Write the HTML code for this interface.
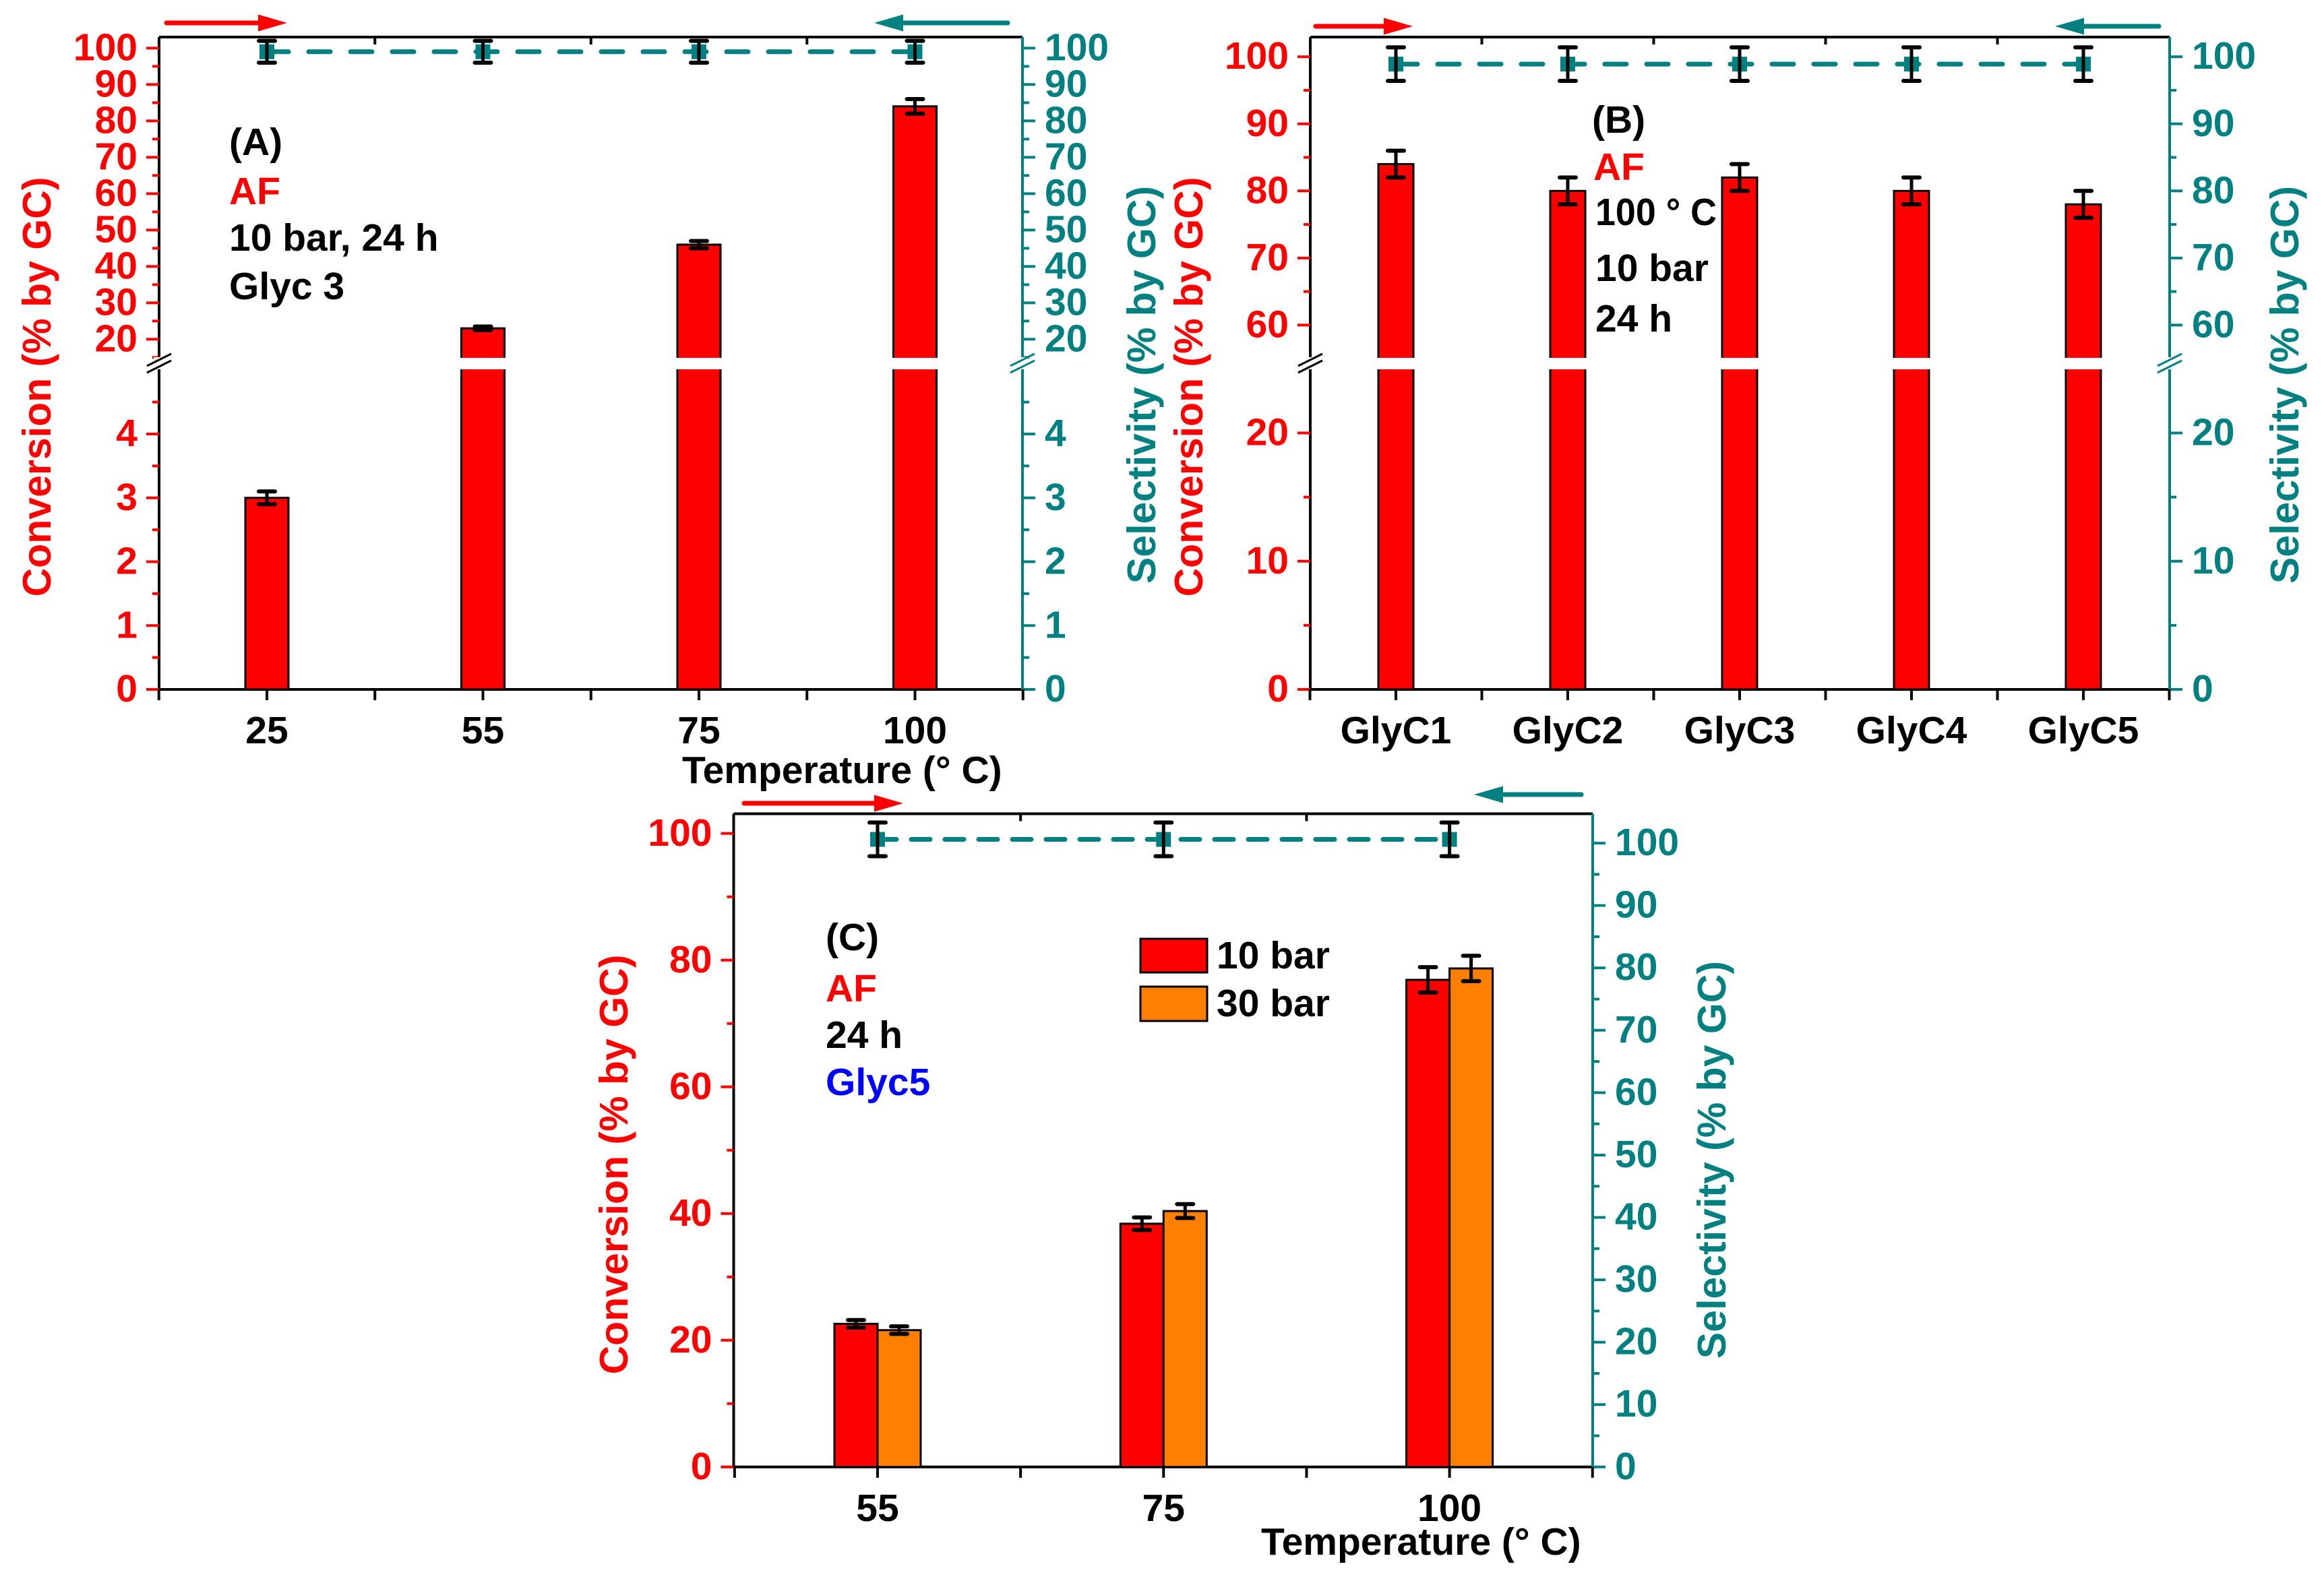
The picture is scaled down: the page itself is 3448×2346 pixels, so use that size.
<!DOCTYPE html>
<html><head><meta charset="utf-8"><style>
html,body{margin:0;padding:0;background:#fff}
svg{display:block}
text{font-family:"Liberation Sans",Arial,sans-serif;font-weight:bold}
</style></head><body>
<svg id="chart" xmlns="http://www.w3.org/2000/svg" width="3448" height="2346" viewBox="0 0 3448 2346"></svg>
<script>
// ---- Panel A data ----
const catsA = ["25","55","75","100"];
const convA = [3, 23, 46, 84];
const convErrA = [0.1, 0.5, 1, 2];
const selA = [99, 99, 99, 99];
const selErrA = [3, 3, 3, 3];
const ticksA_up = [20,30,40,50,60,70,80,90,100];
const ticksA_low = [0,1,2,3,4];
// ---- Panel B data ----
const catsB = ["GlyC1","GlyC2","GlyC3","GlyC4","GlyC5"];
const convB = [84, 80, 82, 80, 78];
const convErrB = [2, 2, 2, 2, 2];
const selB = [98.9, 98.9, 98.9, 98.9, 98.9];
const selErrB = [2.5, 2.5, 2.5, 2.5, 2.5];
const ticksB_up = [60,70,80,90,100];
const ticksB_low = [0,10,20];
// ---- Panel C data ----
const catsC = ["55","75","100"];
const conv10C = [22.6, 38.4, 76.9];
const err10C = [0.6, 1, 2];
const conv30C = [21.6, 40.4, 78.7];
const err30C = [0.6, 1.1, 2];
const selC = [100.6, 100.6, 100.6];
const selErrC = [2.7, 2.7, 2.7];
const ticksC_left = [0,20,40,60,80,100];
const ticksC_right = [0,10,20,30,40,50,60,70,80,90,100];

const NS = "http://www.w3.org/2000/svg";
const svg = document.getElementById('chart');
const RED="#ff0000", TEAL="#008080", ORANGE="#ff8000";
const FS=57;
function el(tag, attrs, parent){
  const e=document.createElementNS(NS,tag);
  for(const k in attrs) e.setAttribute(k,attrs[k]);
  (parent||svg).appendChild(e); return e;
}
function txt(s, attrs, name){
  const t=el('text',attrs); t.textContent=s;
  
  
  return t;
}
function line(x1,y1,x2,y2,c,w,name){
  const l=el('line',{x1,y1,x2,y2,stroke:c,'stroke-width':w});
  
  
  return l;
}
function arrow(x1,x2,y,c,name){
  const g=el('g',{});
  
  
  const d = x2>x1?1:-1;
  el('line',{x1:x1,y1:y,x2:x2-d*30,y2:y,stroke:c,'stroke-width':7,'stroke-linecap':'round'},g);
  el('polygon',{points:`${x2},${y} ${x2-d*43},${y-12.5} ${x2-d*43},${y+12.5}`,fill:c},g);
}
function yTicks(axisX, side, vals, minors, yf, color, labelOff, prefix){
  const d = side==='left'?-1:1;
  vals.forEach(v=>{
    const y=yf(v);
    line(axisX,y,axisX+d*19,y,color,4,prefix+'-tick');
    txt(String(v),{x:axisX+d*labelOff,y:y+18,'font-size':FS,fill:color,'text-anchor':side==='left'?'end':'start'},prefix+'-tick-label');
  });
  minors.forEach(v=>{ const y=yf(v); line(axisX,y,axisX+d*10,y,color,4,prefix+'-minor-tick'); });
}
function breakMark(x,y,color){
  const g=el('g',{});
  
  
  el('rect',{x:x-8,y:y-9,width:16,height:18,fill:'#fff'},g);
  el('line',{x1:x-18,y1:y+4,x2:x+18,y2:y-14,stroke:color,'stroke-width':3},g);
  el('line',{x1:x-18,y1:y+14,x2:x+18,y2:y-4,stroke:color,'stroke-width':3},g);
}
function errBar(x,y1,y2,name){
  const g=el('g',{});
  
  
  el('line',{x1:x,y1:y1,x2:x,y2:y2,stroke:'#000','stroke-width':5},g);
  el('line',{x1:x-12,y1:y1,x2:x+12,y2:y1,stroke:'#000','stroke-width':6,'stroke-linecap':'round'},g);
  el('line',{x1:x-12,y1:y2,x2:x+12,y2:y2,stroke:'#000','stroke-width':6,'stroke-linecap':'round'},g);
}
function bar(x,w,y0,y1,fill,name){
  const r=el('rect',{x:x-w/2,y:Math.min(y0,y1),width:w,height:Math.abs(y0-y1),fill:fill,stroke:'#000','stroke-width':3});
  
  
}
function selSeries(xs, vals, errs, yf, dash, name){
  const pts=vals.map((v,i)=>xs(i)+','+yf(v)).join(' ');
  const p=el('polyline',{points:pts,fill:'none',stroke:TEAL,'stroke-width':7,'stroke-dasharray':dash,'stroke-linecap':'round'});
  
  
  vals.forEach((v,i)=>{
    const m=el('rect',{x:xs(i)-11,y:yf(v)-11,width:22,height:22,fill:TEAL});
    
    
    errBar(xs(i),yf(v+errs[i]),yf(v-errs[i]),name+'-error-bar');
  });
}
function frame(L,R,T,B,name){
  const g=el('g',{});
  
  
  el('line',{x1:L,y1:T,x2:R,y2:T,stroke:'#000','stroke-width':4},g);
  el('line',{x1:L,y1:B,x2:R,y2:B,stroke:'#000','stroke-width':4},g);
  el('line',{x1:L,y1:T,x2:L,y2:B,stroke:'#000','stroke-width':4},g);
  el('line',{x1:R,y1:T,x2:R,y2:B,stroke:TEAL,'stroke-width':4},g);
}
function xAxis(L,R,T,B,cats,xf,prefix){
  const n=cats.length;
  for(let k=0;k<=2*n;k++){ const x=xf(k/2-0.5); line(x,B,x,B+16,'#000',4,prefix+'-x-tick'); }
  for(let k=1;k<n;k++){ const x=xf(k-0.5); line(x,T,x,T+11,'#000',4,prefix+'-top-tick'); }
  cats.forEach((c,i)=>txt(c,{x:xf(i),y:B+80,'font-size':FS,fill:'#000','text-anchor':'middle'},prefix+'-x-tick-label'));
}
function vTitle(s,x,y,color,name){
  txt(s,{x:0,y:0,'font-size':59,fill:color,'text-anchor':'middle',transform:`translate(${x},${y}) rotate(-90)`},name);
}

// ================= Panel A =================
(function(){
  const L=236,R=1517,T=55,B=1023;
  const xf=i=>396+i*320.5;
  const yf=v=> v<=10 ? B - v*94.75 : 71.4-(v-100)*5.4;
  frame(L,R,T,B,'panel-a-frame');
  convA.forEach((v,i)=>bar(xf(i),64,yf(0),yf(v),RED,'panel-a-bar-'+catsA[i]));
  el('rect',{x:L+3,y:531,width:R-L-6,height:17,fill:'#fff'});
  convA.forEach((v,i)=>errBar(xf(i),yf(v+convErrA[i]),yf(v-convErrA[i]),'panel-a-conv-error-bar'));
  selSeries(xf, selA, selErrA, yf, '32 30', 'panel-a-selectivity');
  yTicks(L,'left',ticksA_up,[15,25,35,45,55,65,75,85,95],yf,RED,32,'panel-a-left');
  yTicks(L,'left',ticksA_low,[0.5,1.5,2.5,3.5,4.5],yf,RED,32,'panel-a-left');
  yTicks(R,'right',ticksA_up,[15,25,35,45,55,65,75,85,95],yf,TEAL,33,'panel-a-right');
  yTicks(R,'right',ticksA_low,[0.5,1.5,2.5,3.5,4.5],yf,TEAL,33,'panel-a-right');
  breakMark(L,539,'#000'); breakMark(R,539,TEAL);
  xAxis(L,R,T,B,catsA,xf,'panel-a');
  txt('Temperature (° C)',{x:1012,y:1162,'font-size':FS,fill:'#000'},'panel-a-x-axis-title');
  vTitle('Conversion (% by GC)',75,574,RED,'panel-a-left-axis-title');
  vTitle('Selectivity (% by GC)',1714,571,TEAL,'panel-a-right-axis-title');
  txt('(A)',{x:340,y:230,'font-size':FS,fill:'#000'},'panel-a-label');
  txt('AF',{x:340,y:303,'font-size':FS,fill:RED},'panel-a-note-af');
  txt('10 bar, 24 h',{x:340,y:372,'font-size':FS,fill:'#000'},'panel-a-note-conditions');
  txt('Glyc 3',{x:340,y:444,'font-size':FS,fill:'#000'},'panel-a-note-catalyst');
  arrow(247,426,34,RED,'panel-a-red-arrow');
  arrow(1495,1297,34,TEAL,'panel-a-teal-arrow');
})();

// ================= Panel B =================
(function(){
  const L=1944,R=3219,T=55,B=1023;
  const xf=i=>2071+i*255;
  const yf=v=> v<=40 ? B - v*19.025 : 84.2-(v-100)*9.955;
  frame(L,R,T,B,'panel-b-frame');
  convB.forEach((v,i)=>bar(xf(i),52,yf(0),yf(v),RED,'panel-b-bar-'+catsB[i]));
  el('rect',{x:L+3,y:531,width:R-L-6,height:17,fill:'#fff'});
  convB.forEach((v,i)=>errBar(xf(i),yf(v+convErrB[i]),yf(v-convErrB[i]),'panel-b-conv-error-bar'));
  selSeries(xf, selB, selErrB, yf, '32 30', 'panel-b-selectivity');
  yTicks(L,'left',ticksB_up,[65,75,85,95],yf,RED,32,'panel-b-left');
  yTicks(L,'left',ticksB_low,[5,15],yf,RED,32,'panel-b-left');
  yTicks(R,'right',ticksB_up,[65,75,85,95],yf,TEAL,33,'panel-b-right');
  yTicks(R,'right',ticksB_low,[5,15],yf,TEAL,33,'panel-b-right');
  breakMark(L,539,'#000'); breakMark(R,539,TEAL);
  xAxis(L,R,T,B,catsB,xf,'panel-b');
  vTitle('Conversion (% by GC)',1784,574,RED,'panel-b-left-axis-title');
  vTitle('Selectivity (% by GC)',3410,571,TEAL,'panel-b-right-axis-title');
  txt('(B)',{x:2362,y:197,'font-size':FS,fill:'#000'},'panel-b-label');
  txt('AF',{x:2364,y:267,'font-size':FS,fill:RED},'panel-b-note-af');
  txt('100 ° C',{x:2367,y:334,'font-size':FS,fill:'#000',textLength:180,lengthAdjust:'spacingAndGlyphs'},'panel-b-note-temp');
  txt('10 bar',{x:2367,y:417,'font-size':FS,fill:'#000'},'panel-b-note-pressure');
  txt('24 h',{x:2367,y:492,'font-size':FS,fill:'#000'},'panel-b-note-time');
  arrow(1952,2096,39,RED,'panel-b-red-arrow');
  arrow(3203,3049,39,TEAL,'panel-b-teal-arrow');
})();

// ================= Panel C =================
(function(){
  const L=1088.5,R=2363,T=1207.5,B=2176.8;
  const xf=i=>1302+i*424.3;
  const yf=v=>B - v*9.4;
  const yr=v=>B - v*9.257;
  frame(L,R,T,B,'panel-c-frame');
  conv10C.forEach((v,i)=>bar(xf(i)-32,64,yf(0),yf(v),RED,'panel-c-bar-10bar-'+catsC[i]));
  conv30C.forEach((v,i)=>bar(xf(i)+32,64,yf(0),yf(v),ORANGE,'panel-c-bar-30bar-'+catsC[i]));
  conv10C.forEach((v,i)=>errBar(xf(i)-32,yf(v+err10C[i]),yf(v-err10C[i]),'panel-c-10bar-error-bar'));
  conv30C.forEach((v,i)=>errBar(xf(i)+32,yf(v+err30C[i]),yf(v-err30C[i]),'panel-c-30bar-error-bar'));
  selSeries(xf, selC, selErrC, yr, '28 22', 'panel-c-selectivity');
  yTicks(L,'left',ticksC_left,[10,30,50,70,90],yf,RED,32,'panel-c-left');
  yTicks(R,'right',ticksC_right,[5,15,25,35,45,55,65,75,85,95],yr,TEAL,33,'panel-c-right');
  xAxis(L,R,T,B,catsC,xf,'panel-c');
  txt('Temperature (° C)',{x:1871,y:2307,'font-size':FS,fill:'#000'},'panel-c-x-axis-title');
  vTitle('Conversion (% by GC)',931,1728,RED,'panel-c-left-axis-title');
  vTitle('Selectivity (% by GC)',2560,1721,TEAL,'panel-c-right-axis-title');
  txt('(C)',{x:1225,y:1410,'font-size':FS,fill:'#000'},'panel-c-label');
  txt('AF',{x:1225,y:1486,'font-size':FS,fill:RED},'panel-c-note-af');
  txt('24 h',{x:1225,y:1555,'font-size':FS,fill:'#000'},'panel-c-note-time');
  txt('Glyc5',{x:1225,y:1625,'font-size':FS,fill:'#0000ff'},'panel-c-note-catalyst');
  const l1=el('rect',{x:1692,y:1393,width:99,height:50,fill:RED,stroke:'#000','stroke-width':3});
  
  
  const l2=el('rect',{x:1692,y:1464,width:99,height:51,fill:ORANGE,stroke:'#000','stroke-width':3});
  
  
  txt('10 bar',{x:1805,y:1437,'font-size':FS,fill:'#000'},'legend-entry-10bar');
  txt('30 bar',{x:1805,y:1508,'font-size':FS,fill:'#000'},'legend-entry-30bar');
  arrow(1104,1340,1192,RED,'panel-c-red-arrow');
  arrow(2346,2187,1179,TEAL,'panel-c-teal-arrow');
})();
</script>
</body></html>
